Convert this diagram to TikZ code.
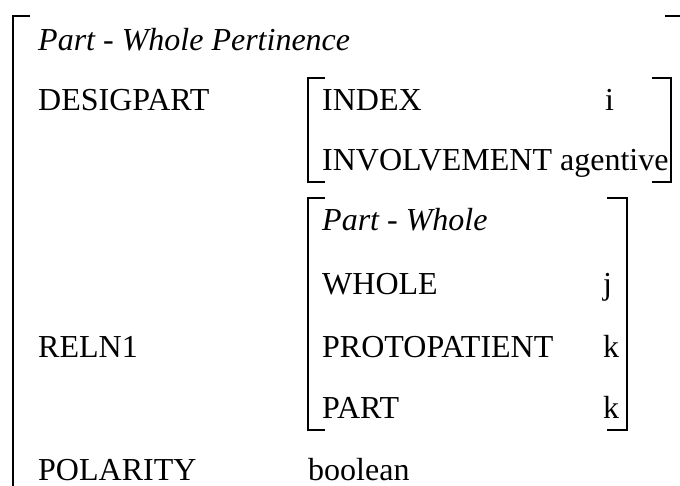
\documentclass[tikz,border=0pt]{standalone}
\usepackage{fontspec}
\setmainfont{Liberation Serif}
\begin{document}
\begin{tikzpicture}[x=1pt,y=-1pt,
  lab/.style={anchor=base west,inner sep=0pt,font=\fontsize{32}{36}\selectfont},
  ital/.style={lab,font=\fontsize{32}{36}\selectfont\itshape},
  brk/.style={line width=2pt}]
\useasboundingbox (0,0) rectangle (680,486);
% outer bracket
\draw[brk] (30,16.5) -- (13,16.5) -- (13,492);
\draw[brk] (665,16.5) -- (684,16.5);
% outer labels
\node[ital] (title) at (38,51) {Part - Whole Pertinence};
\node[lab] (desig) at (38,111) {DESIGPART};
\node[lab] (reln) at (38,357) {RELN1};
\node[lab] (pol) at (38,480) {POLARITY};
\node[lab] (bool) at (308,480) {boolean};
% bracket 1
\node[lab] (index) at (322,111) {INDEX};
\node[lab] (ival) at (605,111) {i};
\node[lab] (invol) at (322,171) {INVOLVEMENT agentive};
\draw[brk] (325,78) -- (308,78) -- (308,182) -- (325,182);
\draw[brk] (652,78) -- (671,78) -- (671,182) -- (652,182);
% bracket 2
\node[ital] (pw) at (322,231) {Part - Whole};
\node[lab] (whole) at (322,295) {WHOLE};
\node[lab] (jval) at (603,295) {j};
\node[lab] (proto) at (322,357) {PROTOPATIENT};
\node[lab] (kval1) at (603,357) {k};
\node[lab] (part) at (322,418) {PART};
\node[lab] (kval2) at (603,418) {k};
\draw[brk] (325,198) -- (308,198) -- (308,430) -- (325,430);
\draw[brk] (607,198) -- (627,198) -- (627,430) -- (607,430);
\end{tikzpicture}
\end{document}
